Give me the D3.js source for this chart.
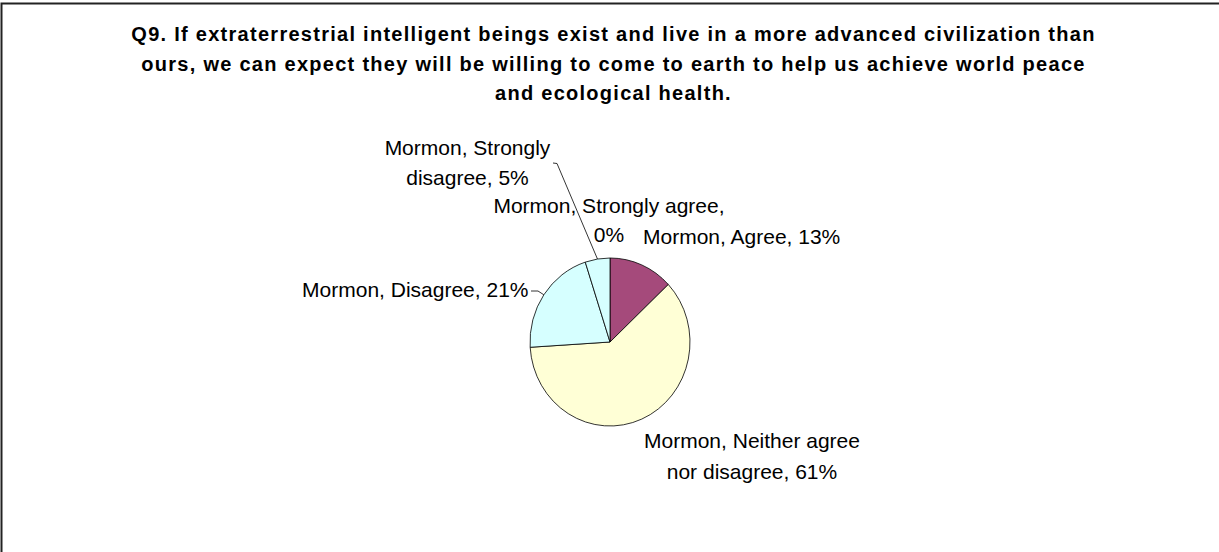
<html>
<head>
  <title>Q9 pie</title>
  <script src="https://d3js.org/d3.v7.min.js"></script>
  <style>
    body { margin: 0; background: #fff; }
    text { font-family: "Liberation Sans", Arial, sans-serif; fill: #000; }
  </style>
</head>
<body>
  <div id="vis"></div>

  <script type="text/javascript">

    // Chart data
    var categories = ["Strongly agree", "Agree", "Neither agree nor disagree", "Disagree", "Strongly disagree"];
    var values = [0, 13, 61, 21, 5];
    var series = "Mormon";
    var titleLines = [
      "Q9. If extraterrestrial intelligent beings exist and live in a more advanced civilization than",
      "ours, we can expect they will be willing to come to earth to help us achieve world peace",
      "and ecological health."
    ];

    // label text is wrapped like the original
    var labelLines = [
      ["Mormon, Strongly agree,", "0%"],
      ["Mormon, Agree, 13%"],
      ["Mormon, Neither agree", "nor disagree, 61%"],
      ["Mormon, Disagree, 21%"],
      ["Mormon, Strongly", "disagree, 5%"]
    ];

    var colors = ["#9999ff", "#a54a7b", "#ffffd6", "#d6ffff", "#d6ffff"];

    var width = 1219, height = 552;
    var cx = 610, cy = 342, r = 84, sx = 80 / 84;

    var svg = d3.select('#vis')
                .append('svg')
                  .attr('width', width)
                  .attr('height', height);

    // outer frame (runs off the right / bottom of the picture)
    svg.append('rect')
         .attr('x', 1.5).attr('y', 3.5)
         .attr('width', width + 20).attr('height', height + 20)
         .attr('fill', 'none')
         .attr('stroke', '#222')
         .attr('stroke-width', 2);

    // Title, stretched with letter spacing to the width of the original
    var title = svg.append('g').attr('class', 'title');
    var titleBase = [41, 70.5, 100];
    titleLines.forEach(function(t, i) {
      title.append('text')
             .attr('x', 613.5)
             .attr('y', titleBase[i])
             .attr('text-anchor', 'middle')
             .style('font-size', '20px')
             .style('font-weight', 'bold')
             .text(t);
    });
    var first = title.select('text').node();
    var natural = first.getComputedTextLength();
    var extra = (963 - natural) / (titleLines[0].length - 1);
    title.selectAll('text').style('letter-spacing', extra + 'px');

    // Pie
    var pie = d3.pie().sort(null).value(function(d) { return d; });
    var arc = d3.arc().innerRadius(0).outerRadius(r);
    var arcs = pie(values);

    var g = svg.append('g')
                 .attr('transform', 'translate(' + cx + ',' + cy + ') scale(' + sx + ',1)');

    g.selectAll('path')
       .data(arcs)
       .enter().append('path')
         .attr('d', arc)
         .attr('fill', function(d, i) { return colors[i]; })
         .attr('stroke', '#000')
         .attr('stroke-width', 0.8)
         .attr('vector-effect', 'non-scaling-stroke');

    // point on the (slightly oval) rim at the middle of a slice
    function rim(d) {
      var a = (d.startAngle + d.endAngle) / 2;
      return [cx + r * sx * Math.sin(a), cy - r * Math.cos(a)];
    }

    // label layout: anchor, x, first baseline, line step, leader start
    var layout = [
      {anchor: 'middle', x: 609, y: 212.5, dy: 29.5, lead: null},
      {anchor: 'start', x: 643, y: 244, dy: 29.5, lead: null},
      {anchor: 'middle', x: 752, y: 448, dy: 30.5, lead: null},
      {anchor: 'end', x: 528.5, y: 297, dy: 29.5, lead: [[531, 291], [538, 291]]},
      {anchor: 'middle', x: 467.5, y: 155, dy: 30, lead: [[553, 163], [557, 163.5]]}
    ];

    var labels = svg.append('g').attr('class', 'labels');

    arcs.forEach(function(d, i) {
      var L = layout[i];
      labelLines[i].forEach(function(t, j) {
        labels.append('text')
                .attr('x', L.x)
                .attr('y', L.y + j * L.dy)
                .attr('text-anchor', L.anchor)
                .style('font-size', '21px')
                .text(t);
      });
      if (L.lead) {
        var pts = L.lead.concat([rim(d)]);
        labels.append('path')
                .attr('d', d3.line()(pts))
                .attr('fill', 'none')
                .attr('stroke', '#000')
                .attr('stroke-width', 0.8);
      }
    });

  </script>
</body>
</html>
